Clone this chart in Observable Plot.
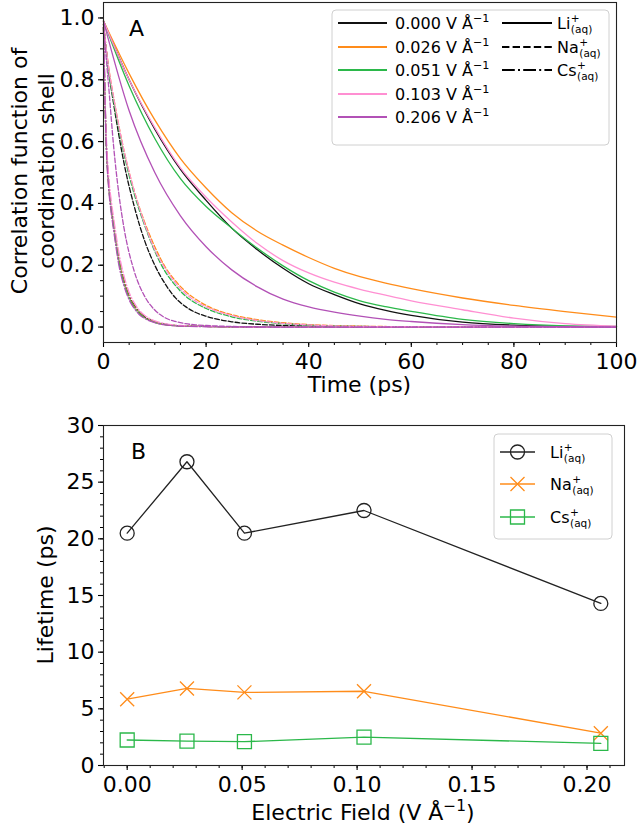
<!DOCTYPE html>
<html><head><meta charset="utf-8">
<script src="https://cdn.jsdelivr.net/npm/d3@7"></script>
<script src="https://cdn.jsdelivr.net/npm/@observablehq/plot@0.6"></script>
<style>
body{margin:0;background:#fff;}
#wrap{width:638px;height:827px;position:relative;font-family:"DejaVu Sans",sans-serif;background:#fff;}
#wrap svg{display:block;}
</style></head><body><div id="wrap"></div>
<script>
// ---------- Panel A data ----------
const fields = ["0.000","0.026","0.051","0.103","0.206"];
const fieldColors = ["#111111","#ff8c1a","#2bb84a","#ff8fd2","#b251b6"];
const ions = ["Li","Na","Cs"];

const tLi = [0,5,10,15,20,25,30,35,40,45,50,55,60,70,80,90,100];
const li000 = [0.99,0.80,0.64,0.51,0.41,0.32,0.25,0.19,0.14,0.105,0.075,0.054,0.038,0.016,0.006,0.002,0.001];
const li026 = [0.99,0.82,0.67,0.545,0.45,0.37,0.31,0.265,0.225,0.19,0.163,0.142,0.124,0.094,0.07,0.05,0.032];
const li051 = [0.99,0.78,0.61,0.48,0.39,0.32,0.255,0.198,0.15,0.113,0.085,0.066,0.051,0.025,0.011,0.004,0.002];
const li103 = [0.99,0.80,0.645,0.515,0.42,0.34,0.27,0.215,0.175,0.145,0.122,0.103,0.085,0.056,0.029,0.011,0.003];
const li206 = [0.99,0.70,0.50,0.36,0.26,0.185,0.13,0.09,0.065,0.048,0.035,0.025,0.018,0.008,0.003,0.001,0];

const tNa = [0,1,2,3,4,6,8,10,12,14,16,18,20,25,30,35,40,50,60,80,100];
const na000 = [0.98,0.83,0.72,0.62,0.53,0.39,0.28,0.20,0.14,0.095,0.066,0.047,0.035,0.017,0.009,0.005,0.003,0.001,0,0,0];
const na026 = [0.98,0.84,0.74,0.65,0.57,0.44,0.34,0.26,0.195,0.15,0.115,0.09,0.07,0.04,0.024,0.014,0.008,0.003,0.001,0,0];
const na051 = [0.98,0.83,0.73,0.64,0.56,0.43,0.33,0.245,0.18,0.135,0.10,0.077,0.06,0.033,0.019,0.011,0.006,0.002,0.001,0,0];
const na103 = [0.98,0.84,0.74,0.65,0.57,0.44,0.335,0.25,0.19,0.143,0.108,0.083,0.065,0.037,0.021,0.012,0.007,0.002,0.001,0,0];
const na206 = [0.97,0.78,0.58,0.43,0.32,0.18,0.10,0.055,0.03,0.018,0.011,0.007,0.005,0.002,0.001,0,0,0,0,0,0];

const tCs = [0,0.5,1,1.5,2,3,4,5,6,7,8,10,12,15,20,30,40,60,100];
const cs000 = [0.97,0.62,0.47,0.39,0.33,0.22,0.15,0.10,0.07,0.047,0.033,0.017,0.009,0.004,0.002,0,0,0,0];
const cs026 = [0.97,0.61,0.46,0.38,0.32,0.215,0.145,0.097,0.067,0.045,0.031,0.016,0.008,0.004,0.002,0,0,0,0];
const cs051 = [0.97,0.61,0.46,0.38,0.32,0.21,0.14,0.094,0.064,0.043,0.030,0.015,0.008,0.004,0.002,0,0,0,0];
const cs103 = [0.97,0.64,0.49,0.41,0.35,0.24,0.165,0.112,0.078,0.054,0.038,0.02,0.011,0.005,0.002,0,0,0,0];
const cs206 = [0.97,0.60,0.45,0.37,0.31,0.20,0.133,0.088,0.06,0.04,0.028,0.014,0.007,0.003,0.001,0,0,0,0];

const xTicksA = [0,20,40,60,80,100];
const yTicksA = [0,0.2,0.4,0.6,0.8,1.0];

// ---------- Panel B data ----------
const efield = [0, 0.026, 0.051, 0.103, 0.206];
const lifeLi = [20.5, 26.8, 20.5, 22.5, 14.3];
const lifeNa = [5.85, 6.8, 6.45, 6.55, 2.85];
const lifeCs = [2.25, 2.15, 2.1, 2.5, 1.95];
const ionColorsB = ["#222222","#ff8c1a","#2bb84a"];
const xTicksB = [0,0.05,0.10,0.15,0.20];
const yTicksB = [0,5,10,15,20,25,30];

// ---------- build ----------
const seriesA = {
  Li: {t: tLi, v: [li000, li026, li051, li103, li206], dash: null},
  Na: {t: tNa, v: [na000, na026, na051, na103, na206], dash: "4.8,2.1"},
  Cs: {t: tCs, v: [cs000, cs026, cs051, cs103, cs206], dash: "8.3,2.1,1.3,2.1"}
};

const linesA = [];
fields.forEach((f, fi) => {
  ions.forEach(ion => {
    const s = seriesA[ion];
    const rows = s.t.map((t, i) => ({t, v: s.v[fi][i]}));
    linesA.push(Plot.line(rows, {x: "t", y: "v", stroke: fieldColors[fi], strokeWidth: 1.3,
      strokeDasharray: s.dash || undefined, curve: "monotone-x"}));
  });
});

const styleCommon = {fontFamily: "DejaVu Sans", fontSize: "22px", color: "#000", background: "#fff", overflow: "visible"};

const minorA_x = d3.range(0, 21).map(i => i * 5);
const minorA_y = d3.range(0, 21).map(i => i / 20);

const plotA = Plot.plot({
  width: 638, height: 395,
  marginLeft: 103, marginRight: 22, marginTop: 2, marginBottom: 53,
  x: {domain: [0, 100]},
  y: {domain: [-0.05, 1.05]},
  style: styleCommon,
  marks: [
    ...linesA,
    Plot.axisX({ticks: minorA_x, tickSize: 3, tickFormat: () => "", label: null, strokeWidth: 1}),
    Plot.axisX({ticks: xTicksA, tickSize: 5, tickPadding: 6, label: null, fontSize: 22, strokeWidth: 1.1}),
    Plot.axisY({ticks: minorA_y, tickSize: 3, tickFormat: () => "", label: null, strokeWidth: 1}),
    Plot.axisY({ticks: yTicksA, tickSize: 5, tickPadding: 4, tickFormat: d3.format(".1f"), label: null, fontSize: 22, strokeWidth: 1.1}),
    Plot.frame({stroke: "#222", strokeWidth: 1.1})
  ]
});

const circleSym = {draw(ctx, size){ const r = Math.sqrt(size/Math.PI); ctx.moveTo(r,0); ctx.arc(0,0,r,0,2*Math.PI); }};
const timesSym = {draw(ctx, size){ const r = Math.sqrt(size/Math.PI); ctx.moveTo(-r,-r); ctx.lineTo(r,r); ctx.moveTo(-r,r); ctx.lineTo(r,-r); }};
const squareSym = {draw(ctx, size){ const r = Math.sqrt(size/Math.PI); ctx.rect(-r,-r,2*r,2*r); }};
const symsB = [circleSym, timesSym, squareSym];
const lifeB = [lifeLi, lifeNa, lifeCs];

const marksB = [];
lifeB.forEach((arr, k) => {
  const rows = efield.map((e, i) => ({e, l: arr[i]}));
  marksB.push(Plot.line(rows, {x: "e", y: "l", stroke: ionColorsB[k], strokeWidth: 1.3}));
  marksB.push(Plot.dot(rows, {x: "e", y: "l", stroke: ionColorsB[k], fill: "none", strokeWidth: 1.3, r: 7, symbol: symsB[k]}));
});

const plotB = Plot.plot({
  width: 638, height: 432,
  marginLeft: 103, marginRight: 14, marginTop: 30, marginBottom: 62,
  x: {domain: [-0.0103, 0.2163]},
  y: {domain: [0, 30]},
  style: styleCommon,
  marks: [
    ...marksB,
    Plot.axisX({ticks: d3.range(-1, 22).map(i => i / 100), tickSize: 3, tickFormat: () => "", label: null, strokeWidth: 1}),
    Plot.axisX({ticks: xTicksB, tickSize: 5, tickPadding: 6, tickFormat: d3.format(".2f"), label: null, fontSize: 22, strokeWidth: 1.1}),
    Plot.axisY({ticks: d3.range(0, 31), tickSize: 3, tickFormat: () => "", label: null, strokeWidth: 1}),
    Plot.axisY({ticks: yTicksB, tickSize: 5, tickPadding: 4, label: null, fontSize: 22, strokeWidth: 1.1}),
    Plot.frame({stroke: "#222", strokeWidth: 1.1})
  ]
});

const wrap = document.getElementById("wrap");
wrap.appendChild(plotA);
wrap.appendChild(plotB);

// ---------- annotations ----------
const FONT = "DejaVu Sans";
function txt(g, x, y, s, size, anchor) {
  return g.append("text").attr("x", x).attr("y", y).attr("font-size", size)
    .attr("font-family", FONT).attr("fill", "#000").attr("text-anchor", anchor || "start").text(s);
}
function ionLabel(g, x, y, base, size) {
  const t = txt(g, x, y, base, size);
  const w = t.node().getComputedTextLength();
  txt(g, x + w + 0.5, y - 7.5, "+", size * 0.66);
  txt(g, x + w + 0.5, y + 4, "(aq)", size * 0.66);
}
function fieldLabel(g, x, y, f, size) {
  const t = g.append("text").attr("x", x).attr("y", y).attr("font-size", size)
    .attr("font-family", FONT).attr("fill", "#000").attr("text-anchor", "start");
  t.append("tspan").text(f + " V Å");
  t.append("tspan").attr("dy", -7).attr("font-size", size * 0.7).text("−1");
}

// Panel A
const gA = d3.select(plotA).append("g");
txt(gA, 129, 36, "A", 22);
txt(gA, 359.5, 392, "Time (ps)", 22, "middle");
txt(gA, 0, 0, "Correlation function of", 22, "middle").attr("transform", "translate(27,171) rotate(-90)");
txt(gA, 0, 0, "coordination shell", 22, "middle").attr("transform", "translate(54,171) rotate(-90)");

// Legend A
gA.append("rect").attr("x", 332).attr("y", 10).attr("width", 277).attr("height", 135).attr("rx", 4)
  .attr("fill", "#fff").attr("fill-opacity", 0.85).attr("stroke", "#d0d0d0").attr("stroke-width", 1);
const rowsA = [23, 47, 70, 94, 117];
fields.forEach((f, i) => {
  gA.append("line").attr("x1", 338).attr("x2", 387).attr("y1", rowsA[i]).attr("y2", rowsA[i])
    .attr("stroke", fieldColors[i]).attr("stroke-width", 2.2);
  fieldLabel(gA, 395, rowsA[i] + 6, f, 16);
});
const dashLeg = [null, "7.4,3.2", "12.8,3.2,2,3.2"];
ions.forEach((ion, i) => {
  gA.append("line").attr("x1", 502).attr("x2", 552).attr("y1", rowsA[i]).attr("y2", rowsA[i])
    .attr("stroke", "#000").attr("stroke-width", 2.2).attr("stroke-dasharray", dashLeg[i]);
  ionLabel(gA, 557, rowsA[i] + 6, ion, 16);
});

// Panel B
const gB = d3.select(plotB).append("g");
txt(gB, 131, 64, "B", 22);
txt(gB, 363, 425, "", 22, "middle").call(t => {
  t.append("tspan").text("Electric Field (V Å");
  t.append("tspan").attr("dy", -9).attr("font-size", 15.4).text("−1");
  t.append("tspan").attr("dy", 9).text(")");
});
txt(gB, 0, 0, "Lifetime (ps)", 22, "middle").attr("transform", "translate(53,200) rotate(-90)");

gB.append("rect").attr("x", 494).attr("y", 39).attr("width", 118).attr("height", 105).attr("rx", 4)
  .attr("fill", "#fff").attr("fill-opacity", 0.85).attr("stroke", "#d0d0d0").attr("stroke-width", 1);
const rowsB = [57, 89, 122];
ions.forEach((ion, i) => {
  const y = rowsB[i];
  gB.append("line").attr("x1", 500).attr("x2", 535).attr("y1", y).attr("y2", y)
    .attr("stroke", ionColorsB[i]).attr("stroke-width", 1.3);
  const p = d3.path();
  symsB[i].draw(p, 49 * Math.PI);
  gB.append("path").attr("d", p.toString()).attr("transform", `translate(517.5,${y})`)
    .attr("fill", "none").attr("stroke", ionColorsB[i]).attr("stroke-width", 1.3);
  ionLabel(gB, 550, y + 6, ion, 16);
});
</script></body></html>
